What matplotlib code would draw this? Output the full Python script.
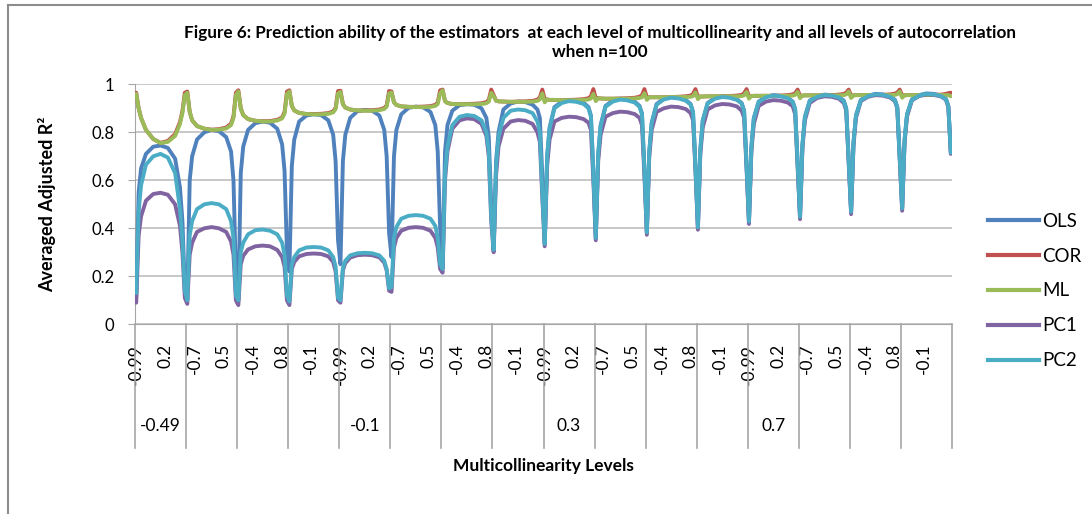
import matplotlib.pyplot as plt
from matplotlib.lines import Line2D

plt.rcParams['font.family'] = ['Lato', 'DejaVu Sans']

# multicollinearity levels inside each autocorrelation block (category axis)
MC_LEVELS = [-0.99, -0.9, -0.8, -0.7, -0.6, -0.5, -0.4, -0.3, -0.2, -0.1, 0.0,
             0.1, 0.2, 0.3, 0.4, 0.5, 0.6, 0.7, 0.8, 0.9, 0.99]
# autocorrelation blocks, only every 4th is labelled by Excel
AC_LEVELS = [-0.49, -0.4, -0.3, -0.2, -0.1, 0.0, 0.1, 0.2,
             0.3, 0.4, 0.5, 0.6, 0.7, 0.8, 0.9, 0.99]
AC_SHOWN = ['-0.49', '-0.1', '0.3', '0.7']
# levels in every block
READ_LEVELS = [-0.99, -0.9, -0.8, -0.6, -0.3, 0.0, 0.3, 0.6, 0.8, 0.9, 0.99]

ols = [
    [0.12, 0.55, 0.65, 0.71, 0.74, 0.745, 0.735, 0.69, 0.57, 0.43, 0.15],
    [0.10, 0.60, 0.70, 0.77, 0.80, 0.81, 0.805, 0.78, 0.72, 0.60, 0.20],
    [0.10, 0.63, 0.74, 0.81, 0.838, 0.845, 0.84, 0.815, 0.75, 0.64, 0.30],
    [0.22, 0.66, 0.77, 0.845, 0.87, 0.875, 0.872, 0.85, 0.79, 0.68, 0.35],
    [0.25, 0.68, 0.79, 0.86, 0.888, 0.893, 0.89, 0.87, 0.81, 0.70, 0.38],
    [0.28, 0.70, 0.81, 0.875, 0.902, 0.907, 0.904, 0.885, 0.83, 0.72, 0.40],
    [0.235, 0.72, 0.83, 0.89, 0.913, 0.917, 0.915, 0.90, 0.86, 0.78, 0.50],
    [0.31, 0.68, 0.80, 0.895, 0.92, 0.928, 0.926, 0.915, 0.895, 0.86, 0.62],
    [0.335, 0.70, 0.82, 0.905, 0.927, 0.935, 0.932, 0.923, 0.905, 0.87, 0.64],
    [0.36, 0.71, 0.83, 0.91, 0.932, 0.94, 0.937, 0.928, 0.91, 0.878, 0.65],
    [0.383, 0.72, 0.84, 0.918, 0.94, 0.947, 0.944, 0.935, 0.918, 0.885, 0.66],
    [0.404, 0.73, 0.85, 0.922, 0.943, 0.95, 0.947, 0.938, 0.922, 0.89, 0.67],
    [0.428, 0.74, 0.86, 0.928, 0.948, 0.955, 0.952, 0.944, 0.928, 0.897, 0.68],
    [0.448, 0.75, 0.865, 0.932, 0.95, 0.957, 0.955, 0.947, 0.932, 0.90, 0.69],
    [0.469, 0.76, 0.87, 0.935, 0.953, 0.96, 0.958, 0.95, 0.936, 0.905, 0.70],
    [0.483, 0.77, 0.875, 0.937, 0.955, 0.962, 0.96, 0.953, 0.94, 0.91, 0.72],
]

cor = [
    [0.965, 0.90, 0.86, 0.81, 0.772, 0.756, 0.764, 0.792, 0.843, 0.888, 0.965],
    [0.97, 0.885, 0.85, 0.826, 0.815, 0.811, 0.813, 0.82, 0.836, 0.866, 0.965],
    [0.975, 0.90, 0.872, 0.855, 0.848, 0.846, 0.847, 0.852, 0.862, 0.884, 0.97],
    [0.975, 0.91, 0.891, 0.881, 0.876, 0.876, 0.877, 0.88, 0.887, 0.902, 0.972],
    [0.973, 0.918, 0.903, 0.895, 0.891, 0.891, 0.892, 0.895, 0.901, 0.912, 0.972],
    [0.97, 0.925, 0.914, 0.908, 0.906, 0.906, 0.907, 0.909, 0.914, 0.924, 0.975],
    [0.978, 0.93, 0.922, 0.918, 0.917, 0.918, 0.919, 0.921, 0.926, 0.935, 0.978],
    [0.955, 0.932, 0.929, 0.928, 0.927, 0.928, 0.929, 0.931, 0.936, 0.945, 0.978],
    [0.938, 0.937, 0.935, 0.935, 0.934, 0.935, 0.936, 0.938, 0.942, 0.95, 0.98],
    [0.942, 0.942, 0.941, 0.94, 0.94, 0.941, 0.942, 0.944, 0.948, 0.955, 0.98],
    [0.946, 0.946, 0.946, 0.946, 0.946, 0.947, 0.948, 0.95, 0.953, 0.96, 0.98],
    [0.948, 0.949, 0.949, 0.95, 0.95, 0.95, 0.951, 0.953, 0.956, 0.962, 0.98],
    [0.95, 0.951, 0.952, 0.952, 0.952, 0.952, 0.953, 0.955, 0.958, 0.963, 0.978],
    [0.952, 0.953, 0.954, 0.954, 0.954, 0.954, 0.955, 0.957, 0.96, 0.965, 0.978],
    [0.953, 0.954, 0.955, 0.955, 0.955, 0.955, 0.956, 0.958, 0.961, 0.966, 0.978],
    [0.954, 0.954, 0.955, 0.955, 0.955, 0.955, 0.956, 0.957, 0.96, 0.963, 0.965],
]

ml = [
    [0.96, 0.90, 0.86, 0.81, 0.772, 0.755, 0.76, 0.785, 0.835, 0.88, 0.955],
    [0.965, 0.885, 0.85, 0.826, 0.815, 0.81, 0.811, 0.816, 0.83, 0.86, 0.955],
    [0.97, 0.90, 0.872, 0.855, 0.848, 0.845, 0.845, 0.849, 0.858, 0.878, 0.96],
    [0.97, 0.91, 0.891, 0.881, 0.876, 0.875, 0.875, 0.877, 0.883, 0.897, 0.962],
    [0.968, 0.918, 0.903, 0.895, 0.891, 0.89, 0.89, 0.892, 0.897, 0.907, 0.962],
    [0.966, 0.925, 0.914, 0.908, 0.906, 0.905, 0.905, 0.906, 0.91, 0.918, 0.963],
    [0.975, 0.93, 0.922, 0.918, 0.917, 0.917, 0.917, 0.918, 0.921, 0.928, 0.965],
    [0.95, 0.932, 0.929, 0.928, 0.927, 0.927, 0.927, 0.928, 0.931, 0.937, 0.962],
    [0.925, 0.937, 0.935, 0.935, 0.934, 0.934, 0.934, 0.935, 0.937, 0.941, 0.96],
    [0.93, 0.942, 0.941, 0.94, 0.94, 0.94, 0.94, 0.941, 0.943, 0.946, 0.963],
    [0.935, 0.946, 0.946, 0.946, 0.946, 0.947, 0.947, 0.947, 0.948, 0.951, 0.966],
    [0.938, 0.949, 0.949, 0.95, 0.95, 0.95, 0.95, 0.95, 0.951, 0.954, 0.968],
    [0.94, 0.951, 0.952, 0.952, 0.952, 0.952, 0.952, 0.952, 0.953, 0.956, 0.968],
    [0.942, 0.953, 0.954, 0.954, 0.954, 0.954, 0.954, 0.954, 0.955, 0.958, 0.97],
    [0.943, 0.954, 0.955, 0.955, 0.955, 0.955, 0.955, 0.955, 0.956, 0.959, 0.97],
    [0.944, 0.954, 0.955, 0.955, 0.955, 0.955, 0.955, 0.955, 0.955, 0.955, 0.95],
]

pc1 = [
    [0.09, 0.37, 0.45, 0.515, 0.543, 0.548, 0.54, 0.50, 0.41, 0.30, 0.11],
    [0.085, 0.29, 0.34, 0.385, 0.40, 0.405, 0.40, 0.385, 0.345, 0.29, 0.10],
    [0.08, 0.25, 0.285, 0.312, 0.325, 0.328, 0.325, 0.31, 0.28, 0.24, 0.10],
    [0.08, 0.23, 0.26, 0.283, 0.293, 0.295, 0.293, 0.283, 0.26, 0.22, 0.10],
    [0.09, 0.225, 0.255, 0.278, 0.288, 0.29, 0.288, 0.279, 0.257, 0.225, 0.14],
    [0.135, 0.32, 0.36, 0.39, 0.402, 0.405, 0.402, 0.39, 0.36, 0.32, 0.23],
    [0.215, 0.60, 0.72, 0.815, 0.85, 0.858, 0.855, 0.835, 0.785, 0.70, 0.43],
    [0.30, 0.62, 0.74, 0.815, 0.845, 0.851, 0.848, 0.835, 0.80, 0.76, 0.53],
    [0.325, 0.66, 0.77, 0.845, 0.86, 0.865, 0.863, 0.855, 0.84, 0.81, 0.60],
    [0.35, 0.68, 0.79, 0.865, 0.88, 0.886, 0.884, 0.876, 0.86, 0.83, 0.62],
    [0.373, 0.70, 0.81, 0.885, 0.90, 0.907, 0.905, 0.897, 0.88, 0.85, 0.64],
    [0.394, 0.71, 0.82, 0.895, 0.912, 0.918, 0.916, 0.908, 0.89, 0.86, 0.65],
    [0.418, 0.72, 0.835, 0.91, 0.928, 0.934, 0.932, 0.924, 0.908, 0.875, 0.66],
    [0.438, 0.735, 0.85, 0.922, 0.943, 0.95, 0.948, 0.94, 0.922, 0.89, 0.675],
    [0.459, 0.745, 0.86, 0.93, 0.948, 0.955, 0.953, 0.945, 0.93, 0.90, 0.69],
    [0.473, 0.755, 0.865, 0.933, 0.951, 0.958, 0.956, 0.949, 0.936, 0.905, 0.71],
]

pc2 = [
    [0.13, 0.47, 0.58, 0.665, 0.70, 0.71, 0.695, 0.63, 0.48, 0.35, 0.14],
    [0.10, 0.37, 0.43, 0.48, 0.50, 0.505, 0.50, 0.48, 0.43, 0.36, 0.12],
    [0.10, 0.30, 0.34, 0.375, 0.392, 0.395, 0.39, 0.375, 0.34, 0.29, 0.12],
    [0.095, 0.25, 0.28, 0.308, 0.32, 0.322, 0.32, 0.308, 0.28, 0.24, 0.11],
    [0.10, 0.235, 0.265, 0.287, 0.296, 0.298, 0.296, 0.287, 0.265, 0.23, 0.15],
    [0.155, 0.36, 0.405, 0.44, 0.452, 0.455, 0.452, 0.44, 0.41, 0.36, 0.25],
    [0.23, 0.63, 0.74, 0.83, 0.865, 0.872, 0.868, 0.85, 0.80, 0.72, 0.45],
    [0.31, 0.66, 0.78, 0.86, 0.89, 0.895, 0.892, 0.88, 0.845, 0.80, 0.55],
    [0.335, 0.70, 0.815, 0.90, 0.922, 0.93, 0.927, 0.918, 0.90, 0.865, 0.635],
    [0.36, 0.71, 0.825, 0.906, 0.928, 0.936, 0.933, 0.924, 0.906, 0.874, 0.645],
    [0.383, 0.72, 0.838, 0.915, 0.937, 0.944, 0.941, 0.932, 0.915, 0.882, 0.655],
    [0.404, 0.73, 0.848, 0.92, 0.94, 0.947, 0.944, 0.935, 0.92, 0.888, 0.665],
    [0.428, 0.74, 0.858, 0.926, 0.946, 0.953, 0.95, 0.942, 0.926, 0.895, 0.675],
    [0.448, 0.75, 0.863, 0.93, 0.948, 0.955, 0.953, 0.945, 0.93, 0.898, 0.685],
    [0.469, 0.76, 0.868, 0.933, 0.951, 0.958, 0.956, 0.948, 0.934, 0.903, 0.695],
    [0.483, 0.77, 0.873, 0.935, 0.953, 0.96, 0.958, 0.951, 0.938, 0.908, 0.715],
]

series = [
    ('OLS', ols, '#4F81BD'),
    ('COR', cor, '#C0504D'),
    ('ML', ml, '#9BBB59'),
    ('PC1', pc1, '#8064A2'),
    ('PC2', pc2, '#4BACC6'),
]

n_mc = len(MC_LEVELS)
n_cat = n_mc * len(AC_LEVELS)
read_idx = [MC_LEVELS.index(lv) for lv in READ_LEVELS]

fig = plt.figure(figsize=(10.92, 5.14), dpi=100)
ax = fig.add_axes([135 / 1092, 189.7 / 514, 817 / 1092, 240 / 514])

for name, rows, color in series:
    xs, ys = [], []
    for g, row in enumerate(rows):
        for j, v in zip(read_idx, row):
            xs.append(g * n_mc + j + 0.5)
            ys.append(v)
    ax.plot(xs, ys, color=color, lw=2.8, label=name,
            solid_joinstyle='round', solid_capstyle='round', zorder=3)

ax.set_xlim(0, n_cat)
ax.set_ylim(0, 1)
ax.set_yticks([0, 0.2, 0.4, 0.6, 0.8, 1.0])
ax.set_yticklabels(['0', '0.2', '0.4', '0.6', '0.8', '1'])
ax.grid(axis='y', color='#BFBFBF', lw=1.2)
ax.set_axisbelow(True)
for s in ['top', 'right']:
    ax.spines[s].set_visible(False)
ax.spines['left'].set_color('#A6A6A6')
ax.spines['bottom'].set_color('#A6A6A6')
ax.tick_params(axis='y', length=5, color='#A6A6A6', pad=10, labelsize=12)

tick_pos = list(range(0, n_cat, 12))
ax.set_xticks([p + 0.5 for p in tick_pos])
ax.set_xticklabels([f'{MC_LEVELS[p % n_mc]:g}' for p in tick_pos],
                   rotation=90, va='top', ha='center', fontsize=12.5)
ax.tick_params(axis='x', length=0, pad=14)

# block separators and autocorrelation labels of the two-level axis
trans = ax.get_xaxis_transform()
for g in range(len(AC_LEVELS) + 1):
    ax.plot([g * n_mc, g * n_mc], [0, -0.515], color='#A6A6A6', lw=1.2,
            transform=trans, clip_on=False)
for g, lab in zip(range(0, len(AC_LEVELS), 4), AC_SHOWN):
    ax.text(g * n_mc + n_mc / 2, -0.424, lab, transform=trans,
            ha='center', va='center', fontsize=12.5)

ax.set_xlabel('Multicollinearity Levels', fontsize=12.5, fontweight='bold',
              labelpad=0)
ax.xaxis.set_label_coords(0.5, -0.555)
ax.set_ylabel('Averaged Adjusted R²', fontsize=13, fontweight='bold')
ax.yaxis.set_label_coords(-0.097, 0.5)

fig.text(600 / 1092, 1 - 33 / 514,
         'Figure 6: Prediction ability of the estimators  at each level of '
         'multicollinearity and all levels of autocorrelation',
         ha='center', va='center', fontsize=12.3, fontweight='bold')
fig.text(600 / 1092, 1 - 52 / 514, 'when n=100', ha='center', va='center',
         fontsize=12.3, fontweight='bold')

handles = [Line2D([], [], color=c, lw=3) for _, _, c in series]
fig.legend(handles, [n for n, _, _ in series], loc='upper left',
           bbox_to_anchor=(971 / 1092, 1 - 196 / 514), frameon=False,
           fontsize=13.5, handlelength=2.7, handletextpad=0.2,
           labelspacing=0.95)

# chart area frame (cropped at right and bottom)
fig.add_artist(Line2D([8 / 1092, 8 / 1092], [0, 1 - 5 / 514],
                      color='#8C8C8C', lw=1.5))
fig.add_artist(Line2D([8 / 1092, 1], [1 - 5 / 514, 1 - 5 / 514],
                      color='#8C8C8C', lw=1.5))

fig.savefig('out.png', dpi=100)
